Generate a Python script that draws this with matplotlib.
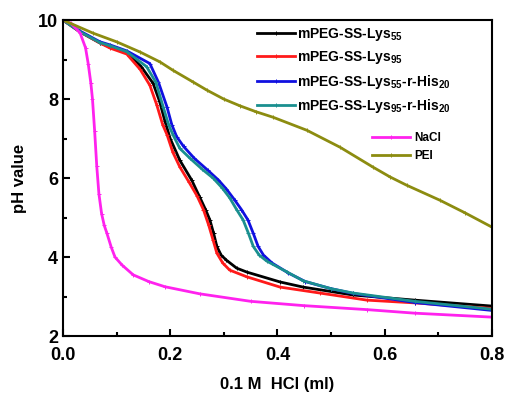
import matplotlib
matplotlib.use("Agg")
import matplotlib.pyplot as plt
from matplotlib.ticker import MultipleLocator

plt.rcParams["font.family"] = "Liberation Sans"
plt.rcParams["font.weight"] = "bold"
plt.rcParams["mathtext.fontset"] = "custom"
plt.rcParams["mathtext.rm"] = "Liberation Sans:bold"
plt.rcParams["mathtext.it"] = "Liberation Sans:bold"
plt.rcParams["mathtext.bf"] = "Liberation Sans:bold"

#
# Values
#

x_lys55 = [0.0, 0.032, 0.069, 0.088, 0.119, 0.146, 0.168, 0.18, 0.19, 0.2, 0.218,
           0.24, 0.255, 0.266, 0.274, 0.281, 0.287, 0.295, 0.305, 0.324, 0.343,
           0.405, 0.448, 0.541, 0.656, 0.8]
y_lys55 = [10.0, 9.7, 9.42, 9.32, 9.18, 8.82, 8.4, 7.95, 7.45, 7.0, 6.45,
           5.95, 5.52, 5.2, 4.94, 4.6, 4.27, 4.05, 3.92, 3.72, 3.62,
           3.37, 3.24, 3.04, 2.91, 2.76]

x_lys95 = [0.0, 0.032, 0.069, 0.088, 0.119, 0.144, 0.162, 0.175, 0.186, 0.194,
           0.205, 0.218, 0.235, 0.25, 0.262, 0.272, 0.28, 0.287, 0.298, 0.311,
           0.343, 0.405, 0.479, 0.567, 0.656, 0.8]
y_lys95 = [10.0, 9.7, 9.42, 9.29, 9.14, 8.75, 8.35, 7.85, 7.35, 7.1,
           6.65, 6.28, 5.9, 5.55, 5.2, 4.8, 4.43, 4.1, 3.85, 3.67,
           3.5, 3.24, 3.09, 2.91, 2.84, 2.7]

x_his55 = [0.0, 0.032, 0.069, 0.088, 0.119, 0.162, 0.178, 0.194, 0.203, 0.212,
           0.225, 0.245, 0.27, 0.29, 0.305, 0.32, 0.333, 0.345, 0.355, 0.364,
           0.374, 0.39, 0.42, 0.452, 0.5, 0.541, 0.656, 0.8]
y_his55 = [10.0, 9.72, 9.45, 9.37, 9.22, 8.9, 8.43, 7.8, 7.35, 7.05,
           6.8, 6.5, 6.2, 5.95, 5.72, 5.45, 5.2, 4.94, 4.6, 4.27,
           4.05, 3.85, 3.6, 3.38, 3.2, 3.08, 2.85, 2.65]

x_his95 = [0.0, 0.032, 0.069, 0.088, 0.119, 0.156, 0.173, 0.187, 0.197, 0.205,
           0.218, 0.237, 0.26, 0.28, 0.297, 0.311, 0.324, 0.336, 0.346, 0.355,
           0.366, 0.38, 0.417, 0.448, 0.5, 0.541, 0.656, 0.8]
y_his95 = [10.0, 9.7, 9.43, 9.35, 9.2, 8.82, 8.43, 7.8, 7.35, 7.1,
           6.75, 6.5, 6.22, 6.0, 5.75, 5.5, 5.2, 4.94, 4.6, 4.27,
           4.05, 3.9, 3.63, 3.4, 3.2, 3.09, 2.88, 2.68]

x_nacl = [0.0, 0.015, 0.032, 0.042, 0.047, 0.052, 0.055, 0.059, 0.063, 0.067,
          0.072, 0.077, 0.082, 0.09, 0.097, 0.11, 0.131, 0.16, 0.19, 0.255,
          0.35, 0.45, 0.567, 0.656, 0.8]
y_nacl = [10.0, 9.92, 9.67, 9.3, 8.9, 8.4, 8.0, 7.2, 6.3, 5.6,
          5.1, 4.8, 4.6, 4.25, 4.0, 3.8, 3.55, 3.38, 3.25, 3.07,
          2.88, 2.77, 2.67, 2.58, 2.48]

x_pei = [0.0, 0.056, 0.1, 0.144, 0.181, 0.205, 0.243, 0.268, 0.3, 0.33,
         0.36, 0.392, 0.455, 0.517, 0.578, 0.61, 0.641, 0.703, 0.75, 0.8]
y_pei = [10.0, 9.67, 9.45, 9.19, 8.94, 8.73, 8.43, 8.23, 8.0, 7.83,
         7.68, 7.54, 7.21, 6.78, 6.28, 6.03, 5.82, 5.44, 5.12, 4.76]

labels_top = [r"mPEG-SS-Lys$_{55}$", r"mPEG-SS-Lys$_{95}$",
              r"mPEG-SS-Lys$_{55}$-r-His$_{20}$", r"mPEG-SS-Lys$_{95}$-r-His$_{20}$"]
labels_bottom = ["NaCl", "PEI"]

fig = plt.figure(figsize=(5.06, 3.94), dpi=100)
ax = fig.add_axes([0.1245, 0.147, 0.8475, 0.802])

style = dict(linewidth=2.0, marker="+", markersize=2.5, markeredgewidth=0.7)

l1, = ax.plot(x_lys55, y_lys55, color="black", **style)
l2, = ax.plot(x_lys95, y_lys95, color="#ff1a1a", **style)
l3, = ax.plot(x_his55, y_his55, color="#1010e0", **style)
l4, = ax.plot(x_his95, y_his95, color="#1a8f8f", **style)
l5, = ax.plot(x_nacl, y_nacl, color="#ff22ee", **style)
l6, = ax.plot(x_pei, y_pei, color="#8c8c10", **style)

ax.set_xlim(0, 0.8)
ax.set_ylim(2, 10)
ax.xaxis.set_minor_locator(MultipleLocator(0.1))
ax.yaxis.set_major_locator(MultipleLocator(2))
ax.yaxis.set_minor_locator(MultipleLocator(1))
ax.set_xticks([0, 0.2, 0.4, 0.6, 0.8])
ax.set_xticklabels(["0.0", "0.2", "0.4", "0.6", "0.8"])
ax.tick_params(which="both", direction="in", top=False, right=False,
               labelsize=13, width=1.5)
ax.tick_params(which="major", length=5)
ax.tick_params(which="minor", length=3)
ax.tick_params(axis="x", pad=8)
for s in ax.spines.values():
    s.set_linewidth(1.5)

ax.set_xlabel("0.1 M  HCl (ml)", fontsize=12, fontweight="bold", labelpad=9)
ax.set_ylabel("pH value", fontsize=12, fontweight="bold", labelpad=8)

leg1 = ax.legend([l1, l2, l3, l4], labels_top, loc="upper left",
                 bbox_to_anchor=(0.43, 1.012), frameon=False, fontsize=10,
                 handlelength=2.7, handletextpad=0.2, labelspacing=0.45,
                 borderaxespad=0.3)
ax.add_artist(leg1)
ax.legend([l5, l6], labels_bottom, loc="upper left",
          bbox_to_anchor=(0.71, 0.66), frameon=False, fontsize=8.5,
          handlelength=3.2, handletextpad=0.4, labelspacing=0.5,
          borderaxespad=0.0)

fig.savefig("out.png", dpi=100)
